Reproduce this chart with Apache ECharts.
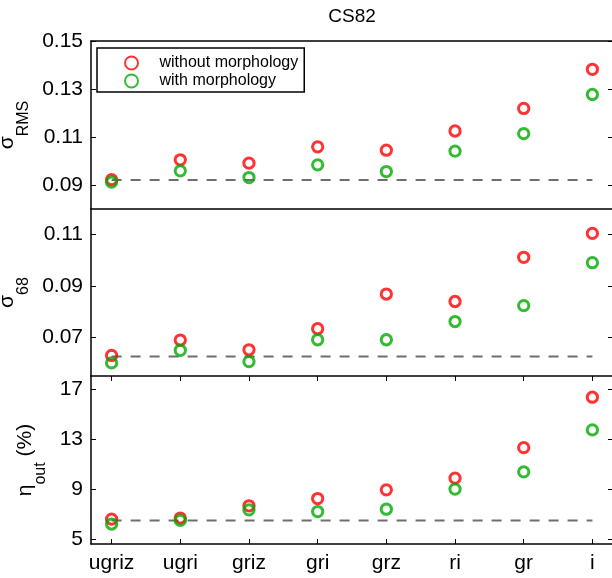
<!DOCTYPE html>
<html lang="en">
<head>
  <meta charset="UTF-8">
  <title>CS82</title>
  <style>
    * { box-sizing: border-box; padding: 0; margin: 0; }
    html, body { width: 100%; height: 100%; background: #fff; }
    #main { width: 612px; height: 578px; }
  </style>
  <script src="https://cdn.jsdelivr.net/npm/echarts@6/dist/echarts.min.js"></script>
</head>
<body>
  <div id="main"></div>
  <script>
    var categories = ['ugriz', 'ugri', 'griz', 'gri', 'grz', 'ri', 'gr', 'i'];
    var rmsWithout = [0.0922, 0.1005, 0.0991, 0.1059, 0.1045, 0.1125, 0.1219, 0.1382];
    var rmsWith    = [0.0912, 0.0959, 0.0931, 0.0984, 0.0956, 0.1041, 0.1114, 0.1277];
    var s68Without = [0.0630, 0.0690, 0.0652, 0.0734, 0.0869, 0.0840, 0.1012, 0.1105];
    var s68With    = [0.0601, 0.0650, 0.0606, 0.0691, 0.0691, 0.0762, 0.0824, 0.0991];
    var etaWithout = [6.57, 6.66, 7.64, 8.22, 8.92, 9.86, 12.3, 16.34];
    var etaWith    = [6.18, 6.47, 7.32, 7.18, 7.37, 8.98, 10.36, 13.72];
    var baseRms = 0.0921, baseS68 = 0.0626, baseEta = 6.46;
    var rmsTicks = [0.09, 0.11, 0.13, 0.15];
    var s68Ticks = [0.07, 0.09, 0.11];
    var etaTicks = [5, 9, 13, 17];

    var FONT = '"Liberation Sans", Arial, Helvetica, sans-serif';
    var RED = '#ff0000', GREEN = '#00aa00';
    var xPos = categories.map(function (c, i) { return i + 1; });

    var myChart = echarts.init(document.getElementById('main'));

    // three stacked panels, no room reserved for labels (v6 default would shrink them)
    var grids = [
      { left: 91, top: 41, width: 522, height: 168, outerBoundsMode: 'none', containLabel: false },
      { left: 91, top: 209, width: 522, height: 167, outerBoundsMode: 'none', containLabel: false },
      { left: 91, top: 376, width: 522, height: 168, outerBoundsMode: 'none', containLabel: false }
    ];

    function xAxis(grid, pos, ticks, labels) {
      return {
        type: 'value', gridIndex: grid, position: pos, min: 0.7, max: 8.3,
        axisLine: { show: true, onZero: false, lineStyle: { color: '#000', width: 1.5 } },
        axisTick: { show: ticks, inside: true, length: 5, customValues: xPos, lineStyle: { color: '#000', width: 1 } },
        axisLabel: {
          show: labels, customValues: xPos, margin: 9,
          color: '#000', fontSize: 21, fontFamily: FONT,
          formatter: function (v) { return categories[Math.round(v) - 1]; }
        },
        splitLine: { show: false }
      };
    }

    function yAxis(grid, pos, min, max, ticks, digits, name, gap) {
      var ax = {
        type: 'value', gridIndex: grid, position: pos, min: min, max: max,
        axisLine: { show: pos === 'left', onZero: false, lineStyle: { color: '#000', width: 1.5 } },
        axisTick: { show: true, inside: true, length: 5, customValues: ticks, lineStyle: { color: '#000', width: 1 } },
        axisLabel: {
          show: pos === 'left', customValues: ticks, margin: 8,
          color: '#000', fontSize: 21, fontFamily: FONT,
          formatter: function (v) { return v.toFixed(digits); }
        },
        splitLine: { show: false }
      };
      if (name) {
        ax.name = name;
        ax.nameLocation = 'middle';
        ax.nameRotate = 90;
        ax.nameGap = gap;
        ax.nameTextStyle = {
          color: '#000', fontFamily: FONT,
          rich: {
            a: { fontSize: 21, fontFamily: FONT, color: '#000', lineHeight: 26, verticalAlign: 'top' },
            b: { fontSize: 16, fontFamily: FONT, color: '#000', lineHeight: 16, verticalAlign: 'top', padding: [18.5, 0, 0, 0] }
          }
        };
      }
      return ax;
    }

    function pts(arr) { return arr.map(function (v, i) { return [xPos[i], v]; }); }

    function scatter(name, arr, color, xi, yi) {
      return {
        name: name, type: 'scatter', xAxisIndex: xi, yAxisIndex: yi,
        symbol: 'circle', symbolSize: 10.3,
        itemStyle: { color: 'rgba(0,0,0,0)', borderColor: color, borderWidth: 3 },
        data: pts(arr), z: 3
      };
    }

    function baseline(v, xi, yi) {
      return {
        type: 'line', xAxisIndex: xi, yAxisIndex: yi, symbol: 'none', silent: true,
        lineStyle: { color: '#6e6e6e', width: 2, type: [10, 9] },
        data: [[xPos[0], v], [xPos[xPos.length - 1], v]], z: 2
      };
    }

    var option = {
      animation: false,
      backgroundColor: '#fff',
      title: {
        text: 'CS82', left: 352, top: 7, textAlign: 'center', padding: 0,
        textStyle: { color: '#000', fontSize: 19, fontWeight: 'normal', fontFamily: FONT }
      },
      legend: {
        data: ['without morphology', 'with morphology'],
        orient: 'vertical', left: 97, top: 48,
        padding: [7, 6, 3, 27], itemGap: 2,
        itemWidth: 46, itemHeight: 13,
        borderColor: '#000', borderWidth: 1.5, backgroundColor: '#fff',
        textStyle: { color: '#000', fontSize: 16, fontFamily: FONT },
        selectedMode: false
      },
      grid: grids,
      xAxis: [
        xAxis(0, 'top', false, false),
        xAxis(1, 'top', false, false),
        xAxis(2, 'bottom', true, true),
        xAxis(2, 'top', true, false)
      ],
      yAxis: [
        yAxis(0, 'left', 0.08, 0.15, rmsTicks, 2, '{a|σ}{b|RMS}', 50),
        yAxis(0, 'right', 0.08, 0.15, rmsTicks, 2),
        yAxis(1, 'left', 0.055, 0.12, s68Ticks, 2, '{a|σ}{b|68}', 50),
        yAxis(1, 'right', 0.055, 0.12, s68Ticks, 2),
        yAxis(2, 'left', 4.58, 18.04, etaTicks, 0, '{a|η}{b|out}{a| (%)}', 30),
        yAxis(2, 'right', 4.58, 18.04, etaTicks, 0)
      ],
      series: [
        baseline(baseRms, 0, 0),
        scatter('without morphology', rmsWithout, RED, 0, 0),
        scatter('with morphology', rmsWith, GREEN, 0, 0),
        baseline(baseS68, 1, 2),
        scatter('without morphology', s68Without, RED, 1, 2),
        scatter('with morphology', s68With, GREEN, 1, 2),
        baseline(baseEta, 2, 4),
        scatter('without morphology', etaWithout, RED, 2, 4),
        scatter('with morphology', etaWith, GREEN, 2, 4)
      ]
    };
    myChart.setOption(option);
  </script>
</body>
</html>
